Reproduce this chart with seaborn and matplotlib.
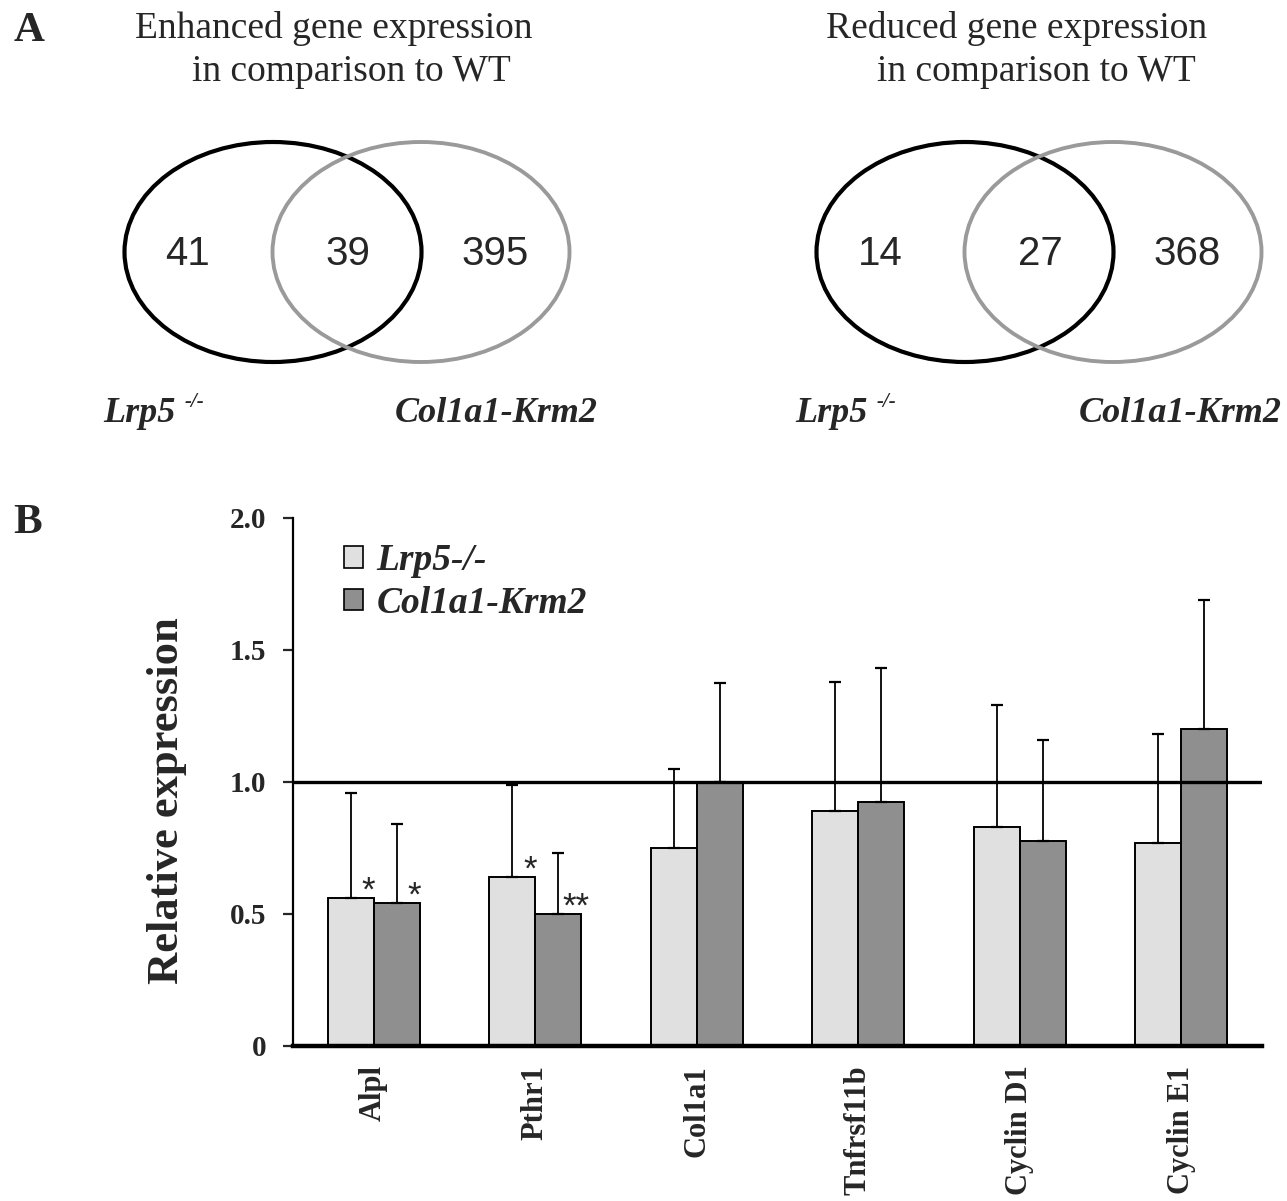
import numpy as np
import pandas as pd
import seaborn as sns
import matplotlib.pyplot as plt
from matplotlib.patches import Ellipse, Patch

# ---- data ----
genes = ['Alpl', 'Pthr1', 'Col1a1', 'Tnfrsf11b', 'Cyclin D1', 'Cyclin E1']
groups = ['Lrp5-/-', 'Col1a1-Krm2']
lrp5_mean = [0.56, 0.64, 0.75, 0.89, 0.83, 0.77]
lrp5_upper = [0.96, 0.99, 1.05, 1.38, 1.29, 1.18]
krm2_mean = [0.54, 0.50, 1.00, 0.925, 0.775, 1.20]
krm2_upper = [0.84, 0.73, 1.375, 1.43, 1.16, 1.69]
lrp5_stars = ['*', '*', '', '', '', '']
krm2_stars = ['*', '**', '', '', '', '']

venn_titles = [('Enhanced gene expression', 'in comparison to WT'),
               ('Reduced gene expression', 'in comparison to WT')]
venn_counts = [(41, 39, 395), (14, 27, 368)]

df = pd.DataFrame({
    'gene': genes * 2,
    'group': [groups[0]] * 6 + [groups[1]] * 6,
    'value': lrp5_mean + krm2_mean,
})

sns.set_theme(style='white')
plt.rcParams['font.family'] = ['Liberation Serif', 'DejaVu Serif']

W, H = 1287, 1201
fig = plt.figure(figsize=(W / 100, H / 100), dpi=100)

# ---- panel A: Venn diagrams, drawn in pixel coords ----
top = fig.add_axes([0, 0, 1, 1])
top.set_xlim(0, W)
top.set_ylim(H, 0)
top.axis('off')

top.text(29, 31, 'A', fontsize=31, fontweight='bold', ha='center', va='center')
top.text(28, 523, 'B', fontsize=31, fontweight='bold', ha='center', va='center')

venn_x = [273, 965]      # centre of the black ellipse in each diagram
title_x = [(135, 192), (826, 877)]
label_end = [598, 1282]
for i in range(2):
    cx = venn_x[i]
    cy = 252
    dx = 148
    top.add_patch(Ellipse((cx, cy), 297, 220, fill=False, ec='black', lw=3.0))
    top.add_patch(Ellipse((cx + dx, cy), 297, 220, fill=False, ec='#9a9a9a', lw=2.8))
    a, b, c = venn_counts[i]
    for x, n in zip([cx - 85, cx + 75, cx + 222], [a, b, c]):
        top.text(x, cy + 2, str(n), fontsize=29, family='Liberation Sans',
                 ha='center', va='center')
    l1, l2 = venn_titles[i]
    top.text(title_x[i][0], 28, l1, fontsize=27, ha='left', va='center')
    top.text(title_x[i][1], 72, l2, fontsize=27, ha='left', va='center')
    # group labels under the diagram
    lx = cx - 170
    top.text(lx, 414, 'Lrp5', fontsize=26, fontweight='bold', style='italic',
             ha='left', va='center')
    top.text(lx + 82, 402, '-/-', fontsize=15, fontweight='bold', style='italic',
             ha='left', va='center')
    top.text(label_end[i], 414, 'Col1a1-Krm2', fontsize=26, fontweight='bold',
             style='italic', ha='right', va='center')

# ---- panel B: bar chart ----
ax = fig.add_axes([293 / W, 1 - 1046 / H, (1262 - 293) / W, (1046 - 518) / H])
sns.barplot(data=df, x='gene', y='value', hue='group', order=genes,
            hue_order=groups, palette=['#e0e0e0', '#8f8f8f'], width=0.57,
            edgecolor='black', linewidth=1.4, saturation=1, ax=ax, legend=False)

for cont, upper, stars in zip(ax.containers, [lrp5_upper, krm2_upper],
                              [lrp5_stars, krm2_stars]):
    for bar, up, st in zip(cont, upper, stars):
        xc = bar.get_x() + bar.get_width() / 2
        h = bar.get_height()
        ax.errorbar(xc, h, yerr=[[0], [up - h]], fmt='none', ecolor='black',
                    elinewidth=1.3, capsize=4, capthick=1.6, zorder=3)
        if st:
            ax.text(xc + 0.11, h - 0.01, st, fontsize=25, family='Liberation Sans',
                    ha='center', va='baseline')

ax.axhline(1.0, color='black', lw=2.4, zorder=6)

ax.set_xlim(-0.5, 5.5)
ax.set_ylim(0, 2.0)
ax.set_yticks([0, 0.5, 1.0, 1.5, 2.0])
ax.set_yticklabels(['0', '0.5', '1.0', '1.5', '2.0'], fontsize=21, fontweight='bold')
ax.set_xticks(range(len(genes)))
ax.set_xticklabels(genes, rotation=90, fontsize=22, fontweight='bold', va='top')
ax.tick_params(axis='y', direction='out', length=7, width=1.6, pad=12, left=True)
ax.tick_params(axis='x', length=0, pad=14)
ax.set_xlabel('')
ax.set_ylabel('Relative expression', fontsize=32, fontweight='bold')
ax.yaxis.set_label_coords(-0.109, 0.464)

sns.despine(ax=ax)
ax.spines['left'].set_linewidth(1.6)
ax.spines['bottom'].set_linewidth(3.2)
ax.spines['left'].set_color('black')
ax.spines['bottom'].set_color('black')

handles = [Patch(facecolor='#e0e0e0', edgecolor='black', lw=1.2),
           Patch(facecolor='#8f8f8f', edgecolor='black', lw=1.2)]
leg = ax.legend(handles, groups, loc='upper left', bbox_to_anchor=(0.053, 0.952),
                frameon=False, handlelength=0.5, handleheight=0.5,
                handletextpad=0.35, labelspacing=0.2, borderpad=0, borderaxespad=0,
                prop={'family': 'Liberation Serif', 'weight': 'bold',
                      'style': 'italic', 'size': 27})

fig.savefig('out.png', dpi=100)
